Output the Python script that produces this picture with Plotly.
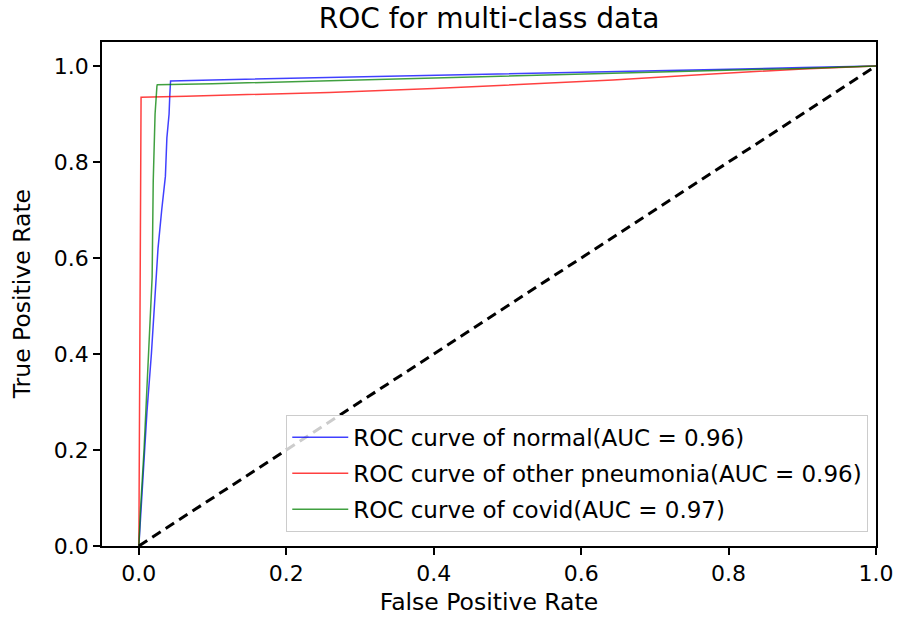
import plotly.graph_objects as go

# ---- data ----
normal_fpr = [0.0, 0.002, 0.006, 0.011, 0.017, 0.022, 0.026, 0.031, 0.036, 0.038, 0.041, 0.042, 0.043,
              0.1, 0.2, 0.3, 0.4, 0.5, 0.6, 0.7, 0.8, 0.9, 1.0]
normal_tpr = [0.0, 0.05, 0.15, 0.28, 0.40, 0.52, 0.62, 0.70, 0.77, 0.85, 0.90, 0.94, 0.969,
              0.971, 0.974, 0.977, 0.980, 0.983, 0.986, 0.990, 0.993, 0.997, 1.0]

other_fpr = [0.0, 0.002, 0.0023, 0.003, 0.064, 0.15, 0.258, 0.4, 0.514, 0.643, 0.772, 0.901, 1.0]
other_tpr = [0.0, 0.60, 0.935, 0.935, 0.937, 0.940, 0.945, 0.953, 0.961, 0.971, 0.983, 0.994, 1.0]

covid_fpr = [0.0, 0.002, 0.007, 0.012, 0.016, 0.018, 0.0195, 0.022, 0.0245, 0.025,
             0.1, 0.258, 0.4, 0.514, 0.65, 0.772, 0.9, 1.0]
covid_tpr = [0.0, 0.07, 0.20, 0.35, 0.48, 0.56, 0.76, 0.90, 0.958, 0.961,
             0.963, 0.969, 0.975, 0.980, 0.985, 0.990, 0.995, 1.0]

diag_x = [0.0, 1.0]
diag_y = [0.0, 1.0]

x_ticks = [0.0, 0.2, 0.4, 0.6, 0.8, 1.0]
y_ticks = [0.0, 0.2, 0.4, 0.6, 0.8, 1.0]

FONT = "DejaVu Sans"

fig = go.Figure()
fig.add_trace(go.Scatter(x=normal_fpr, y=normal_tpr, mode="lines",
                         line=dict(color="rgba(0,0,255,0.75)", width=1.5),
                         name="ROC curve of normal(AUC = 0.96)", legendgroup="a"))
fig.add_trace(go.Scatter(x=other_fpr, y=other_tpr, mode="lines",
                         line=dict(color="rgba(255,0,0,0.75)", width=1.5),
                         name="ROC curve of other pneumonia(AUC = 0.96)", legendgroup="b"))
fig.add_trace(go.Scatter(x=covid_fpr, y=covid_tpr, mode="lines",
                         line=dict(color="rgba(0,128,0,0.75)", width=1.5),
                         name="ROC curve of covid(AUC = 0.97)", legendgroup="c"))
fig.add_trace(go.Scatter(x=diag_x, y=diag_y, mode="lines",
                         line=dict(color="black", width=3, dash="10px,6px"),
                         showlegend=False))

fig.update_layout(
    width=899, height=620,
    margin=dict(l=102, r=23, t=42, b=74, autoexpand=False),
    paper_bgcolor="white", plot_bgcolor="white",
    font=dict(family=FONT, size=21, color="black"),
    title=dict(text="ROC for multi-class data", x=0.544, xanchor="center",
               y=0.97, yanchor="middle", font=dict(size=28, family=FONT)),
    legend=dict(x=0.99, xanchor="right", y=0.028, yanchor="bottom",
                bgcolor="rgba(255,255,255,0.8)", bordercolor="#cccccc", borderwidth=1,
                font=dict(size=23, family=FONT), tracegroupgap=3, itemwidth=56),
    showlegend=True,
    annotations=[dict(text="True Positive Rate", textangle=-90, xref="paper", yref="paper",
                      x=-0.103, y=0.5, xanchor="center", yanchor="middle", showarrow=False,
                      font=dict(size=23.5, family=FONT))],
)
fig.update_xaxes(range=[-0.05, 1.0], tickvals=x_ticks, tickformat=".1f",
                 showgrid=False, zeroline=False, showline=True, linecolor="black",
                 linewidth=1.5, mirror=True, ticks="outside", ticklen=7, tickwidth=1.5,
                 tickcolor="black", tickfont=dict(size=22),
                 title=dict(text="False Positive Rate", standoff=8, font=dict(size=23.5)))
fig.update_yaxes(range=[0.0, 1.05], tickvals=y_ticks, tickformat=".1f",
                 showgrid=False, zeroline=False, showline=True, linecolor="black",
                 linewidth=1.5, mirror=True, ticks="outside", ticklen=7, tickwidth=1.5,
                 tickcolor="black", tickfont=dict(size=22))

fig.write_html("out.html", config={"displayModeBar": False},
               post_script="document.body.style.margin='0';document.body.style.overflow='hidden';")
